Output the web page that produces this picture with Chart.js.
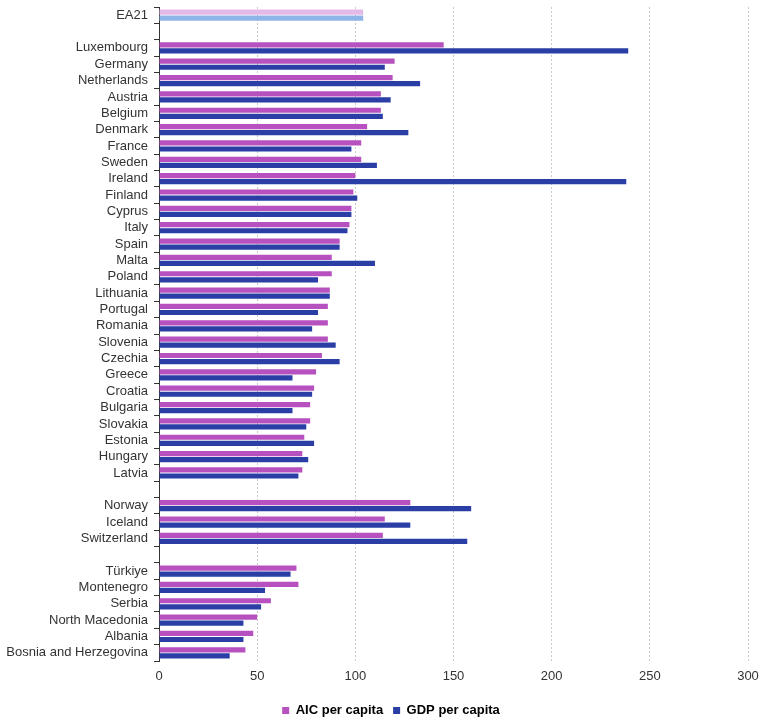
<!DOCTYPE html>
<html>
<head>
<meta charset="utf-8">
<script src="https://cdn.jsdelivr.net/npm/chart.js@4/dist/chart.umd.min.js"></script>
<style>
  html, body { margin: 0; padding: 0; background: #fff; }
  #wrap { width: 767px; height: 721px; }
</style>
</head>
<body>
<div id="wrap"><canvas id="grafico"></canvas></div>
<script>
// blank labels are the gaps between country groups
var paises = ['EA21', '',
  'Luxembourg', 'Germany', 'Netherlands', 'Austria', 'Belgium', 'Denmark', 'France', 'Sweden',
  'Ireland', 'Finland', 'Cyprus', 'Italy', 'Spain', 'Malta', 'Poland', 'Lithuania', 'Portugal',
  'Romania', 'Slovenia', 'Czechia', 'Greece', 'Croatia', 'Bulgaria', 'Slovakia', 'Estonia',
  'Hungary', 'Latvia', '',
  'Norway', 'Iceland', 'Switzerland', '',
  'Türkiye', 'Montenegro', 'Serbia', 'North Macedonia', 'Albania', 'Bosnia and Herzegovina'];

var aic = [104, null,
  145, 120, 119, 113, 113, 106, 103, 103,
  100, 99, 98, 97, 92, 88, 88, 87, 86,
  86, 86, 83, 80, 79, 77, 77, 74,
  73, 73, null,
  128, 115, 114, null,
  70, 71, 57, 50, 48, 44];

var gdp = [104, null,
  239, 115, 133, 118, 114, 127, 98, 111,
  238, 101, 98, 96, 92, 110, 81, 87, 81,
  78, 90, 92, 68, 78, 68, 75, 79,
  76, 71, null,
  159, 128, 157, null,
  67, 54, 52, 43, 43, 36];

var ticksX = [0, 50, 100, 150, 200, 250, 300];

var corAic = '#b651bf', corAicEA = '#e3b9e7';
var corGdp = '#2a3ea6', corGdpEA = '#8fb4e8';

function corPorBarra(normal, destaque) {
  return paises.map(function(p) { return p === 'EA21' ? destaque : normal; });
}

Chart.defaults.font.family = '"Liberation Sans", Arial, sans-serif';
Chart.defaults.font.size = 13;
Chart.defaults.color = '#333';

// fixes the legend box height and nudges it right, like in the original
var ajusteLegenda = {
  id: 'ajusteLegenda',
  beforeLayout: function(chart) {
    var lg = chart.legend;
    if (lg && !lg._fixo) {
      var fitOriginal = lg.fit;
      var drawOriginal = lg.draw;
      lg.fit = function() { fitOriginal.call(this); this.height = 27; };
      lg.draw = function() {
        var ctx = this.ctx;
        ctx.save();
        ctx.translate(17, 0);
        drawOriginal.apply(this, arguments);
        ctx.restore();
      };
      lg._fixo = true;
    }
  }
};

new Chart(document.getElementById('grafico'), {
  type: 'bar',
  data: {
    labels: paises,
    datasets: [{
      label: 'AIC per capita',
      data: aic,
      backgroundColor: corPorBarra(corAic, corAicEA),
      categoryPercentage: 0.74,
      barPercentage: 0.86
    }, {
      label: 'GDP per capita',
      data: gdp,
      backgroundColor: corPorBarra(corGdp, corGdpEA),
      categoryPercentage: 0.74,
      barPercentage: 0.86
    }]
  },
  options: {
    indexAxis: 'y',
    responsive: true,
    maintainAspectRatio: false,
    animation: false,
    layout: { padding: { top: 7, right: 19, left: 0, bottom: 0 } },
    scales: {
      x: {
        min: 0,
        max: 300,
        afterBuildTicks: function(scale) {
          scale.ticks = ticksX.map(function(v) { return { value: v }; });
        },
        afterFit: function(scale) { scale.height = 33; },
        border: { display: false, dash: [2, 2] },
        grid: {
          color: '#c8c8c8',
          tickLength: 0,
          drawTicks: false
        },
        ticks: { padding: 8, color: '#333' }
      },
      y: {
        afterFit: function(scale) {
          scale.width = 159;
          scale.paddingTop = 0;
          scale.paddingBottom = 0;
        },
        border: { display: true, color: '#333', width: 1 },
        grid: {
          drawOnChartArea: false,
          tickLength: 5,
          color: '#333'
        },
        ticks: { padding: 6, color: '#333', autoSkip: false }
      }
    },
    plugins: {
      legend: {
        position: 'bottom',
        labels: {
          boxWidth: 7,
          boxHeight: 7,
          padding: 10,
          color: '#111',
          font: { weight: 'bold', size: 13 },
          generateLabels: function(chart) {
            return chart.data.datasets.map(function(ds, i) {
              return {
                text: ds.label,
                fillStyle: i === 0 ? corAic : corGdp,
                strokeStyle: i === 0 ? corAic : corGdp,
                lineWidth: 0,
                datasetIndex: i
              };
            });
          }
        }
      },
      tooltip: { enabled: false }
    }
  },
  plugins: [ajusteLegenda]
});
</script>
</body>
</html>
